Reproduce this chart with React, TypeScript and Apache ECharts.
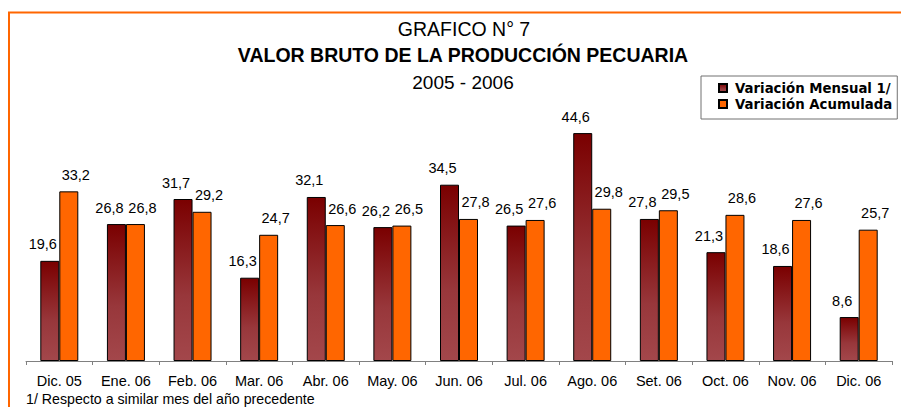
import React, { useEffect, useRef } from "react";
import * as echarts from "echarts";

const categories = ["Dic. 05", "Ene. 06", "Feb. 06", "Mar. 06", "Abr. 06", "May. 06", "Jun. 06", "Jul. 06", "Ago. 06", "Set. 06", "Oct. 06", "Nov. 06", "Dic. 06"];
const mensual = [19.6, 26.8, 31.7, 16.3, 32.1, 26.2, 34.5, 26.5, 44.6, 27.8, 21.3, 18.6, 8.6];
const acumulada = [33.2, 26.8, 29.2, 24.7, 26.6, 26.5, 27.8, 27.6, 29.8, 29.5, 28.6, 27.6, 25.7];
const seriesNames = ["Variación Mensual 1/", "Variación Acumulada"];
const titleLines = ["GRAFICO N° 7", "VALOR BRUTO DE LA PRODUCCIÓN PECUARIA", "2005 - 2006"];
const footnote = "1/ Respecto a similar mes del año precedente";

const FONT = "Arial, 'Liberation Sans', sans-serif";

export default function App() {
  const ref = useRef<HTMLDivElement>(null);
  useEffect(() => {
    if (!ref.current) return;
    const chart = echarts.init(ref.current, null, { renderer: "svg" });
    const fmt = (p: any) => String(p.value).replace(".", ",");
    const mkLabel = (dx: number) => ({
      show: true,
      position: "top",
      distance: 9,
      offset: [dx, 0],
      color: "#000",
      fontFamily: FONT,
      fontSize: 14.5,
      formatter: fmt,
    });
    chart.setOption({
      animation: false,
      backgroundColor: "#fff",
      grid: { left: 26, right: 9, top: 105.5, bottom: 46 },
      legend: {
        orient: "vertical",
        left: 701,
        top: 76,
        align: "left",
        padding: [4, 5, 7, 17],
        itemGap: 0,
        itemWidth: 8,
        itemHeight: 8,
        borderColor: "#707070",
        borderWidth: 1,
        backgroundColor: "#fff",
        icon: "rect",
        textStyle: {
          fontFamily: "'DejaVu Sans', sans-serif",
          fontWeight: "bold",
          fontSize: 13.3,
          color: "#000",
          lineHeight: 16,
          padding: [0, 0, 0, 3],
        },
        data: seriesNames,
      },
      xAxis: {
        type: "category",
        data: categories,
        axisLine: { lineStyle: { color: "#808080", width: 1 } },
        axisTick: { show: true, length: 4, lineStyle: { color: "#808080" } },
        axisLabel: { color: "#000", fontFamily: FONT, fontSize: 14.5, margin: 12 },
      },
      yAxis: {
        type: "value",
        min: 0,
        max: 50,
        show: false,
        splitLine: { show: false },
      },
      series: [
        {
          name: seriesNames[0],
          type: "bar",
          data: mensual,
          barWidth: 19,
          barGap: "0%",
          itemStyle: {
            color: new echarts.graphic.LinearGradient(0, 0, 0, 1, [
              { offset: 0, color: "#7a0000" },
              { offset: 0.6, color: "#98373b" },
              { offset: 1, color: "#a3474b" },
            ]),
            borderColor: "#000",
            borderWidth: 1,
          },
          label: mkLabel(-7),
        },
        {
          name: seriesNames[1],
          type: "bar",
          data: acumulada,
          barWidth: 19,
          itemStyle: { color: "#ff6600", borderColor: "#000", borderWidth: 1 },
          label: mkLabel(7),
        },
      ],
      graphic: [
        {
          type: "rect",
          shape: { x: 9, y: 12.5, width: 1200, height: 1200 },
          style: { fill: "none", stroke: "#ff6600", lineWidth: 2 },
          silent: true,
        },
        {
          type: "text",
          x: 464,
          y: 29,
          style: { text: titleLines[0], fontFamily: FONT, fontSize: 19.5, fill: "#000", textAlign: "center", textVerticalAlign: "middle" },
        },
        {
          type: "text",
          x: 463,
          y: 55,
          style: { text: titleLines[1], fontFamily: FONT, fontSize: 19.5, fontWeight: "bold", fill: "#000", textAlign: "center", textVerticalAlign: "middle" },
        },
        {
          type: "text",
          x: 463,
          y: 82,
          style: { text: titleLines[2], fontFamily: FONT, fontSize: 19, fill: "#000", textAlign: "center", textVerticalAlign: "middle" },
        },
        {
          type: "text",
          x: 26,
          y: 399,
          style: { text: footnote, fontFamily: FONT, fontSize: 14.2, fill: "#000", textAlign: "left", textVerticalAlign: "middle" },
        },
      ],
    });
    return () => chart.dispose();
  }, []);
  return <div ref={ref} style={{ position: "absolute", left: 0, top: 0, width: 901, height: 407 }} />;
}
